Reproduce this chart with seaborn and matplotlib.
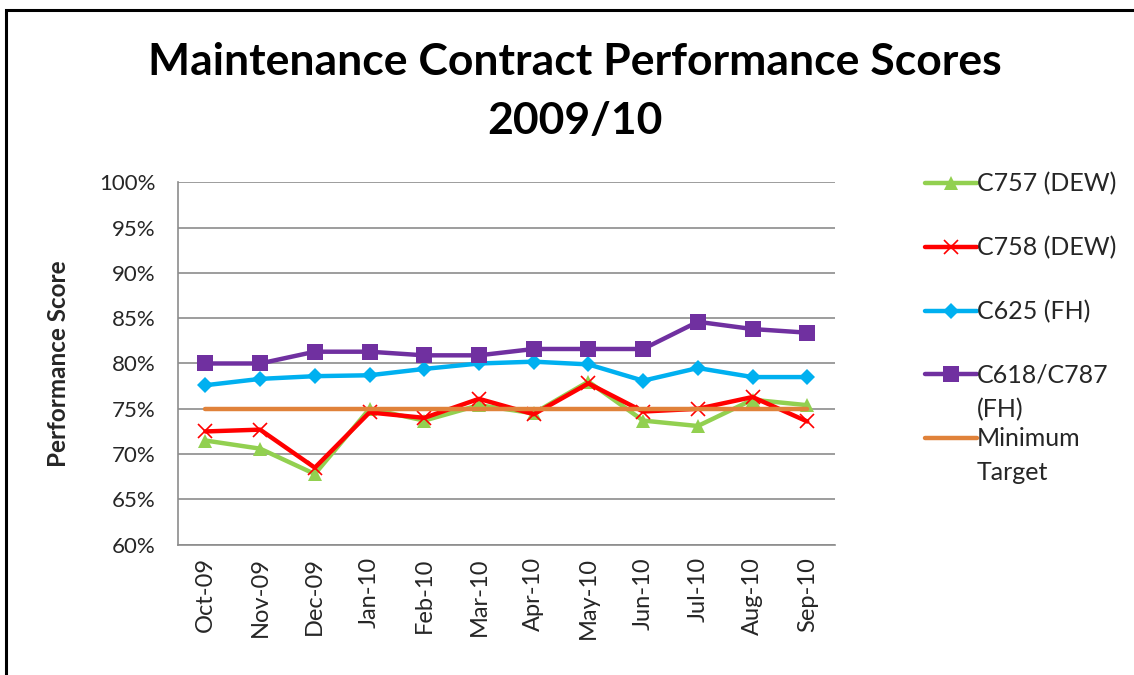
import pandas as pd
import matplotlib.pyplot as plt
import seaborn as sns
from matplotlib.patches import Rectangle
from matplotlib.ticker import PercentFormatter

# Data
months = ['Oct-09', 'Nov-09', 'Dec-09', 'Jan-10', 'Feb-10', 'Mar-10',
          'Apr-10', 'May-10', 'Jun-10', 'Jul-10', 'Aug-10', 'Sep-10']
c757 = [71.5, 70.6, 67.8, 75.0, 73.7, 75.4, 74.5, 78.0, 73.7, 73.1, 76.0, 75.4]
c758 = [72.5, 72.7, 68.5, 74.6, 74.0, 76.1, 74.4, 77.8, 74.7, 75.0, 76.3, 73.6]
c625 = [77.6, 78.3, 78.6, 78.7, 79.4, 80.0, 80.2, 79.9, 78.1, 79.5, 78.5, 78.5]
c618 = [80.0, 80.0, 81.3, 81.3, 80.9, 80.9, 81.6, 81.6, 81.6, 84.6, 83.8, 83.4]
target = [75] * 12

series_names = ['C757 (DEW)', 'C758 (DEW)', 'C625 (FH)', 'C618/C787', 'Minimum']
second_lines = ['', '', '', '(FH)', 'Target']
series_values = [c757, c758, c625, c618, target]
colors = ['#92D050', '#FF0000', '#00B0F0', '#7030A0', '#E0823A']
markers = ['^', 'x', 'D', 's', None]
msizes = [10, 10, 8, 11, 0]

sns.set_style('white')
plt.rcParams['font.family'] = ['Lato', 'DejaVu Sans']

fig = plt.figure(figsize=(11.34, 6.75), dpi=100)
ax = fig.add_axes([0.157, 0.193, 0.579, 0.537])

x = list(range(len(months)))
for name, vals, col, mk, ms in zip(series_names, series_values, colors, markers, msizes):
    df = pd.DataFrame({'x': x, 'y': vals})
    sns.lineplot(data=df, x='x', y='y', ax=ax, color=col, linewidth=3.2,
                 marker=mk, markersize=ms, markeredgecolor=col,
                 markeredgewidth=1.2 if mk == 'x' else 0, label=name)

ax.set_xlim(-0.5, 11.5)
ax.set_ylim(60, 100)
ax.set_yticks(range(60, 101, 5))
ax.yaxis.set_major_formatter(PercentFormatter(decimals=0))
ax.set_xticks(x)
ax.set_xticklabels(months, rotation=90, fontsize=17)
ax.tick_params(axis='y', labelsize=16, length=0, pad=16)
ax.tick_params(axis='x', length=0, pad=9)
ax.grid(axis='y', color='#8C8C8C', linewidth=1.2)
ax.set_xlabel('')
ax.set_ylabel('Performance Score', fontsize=17.5, fontweight='bold')
ax.yaxis.set_label_coords(-0.164, 0.5)
for s in ['top', 'right']:
    ax.spines[s].set_visible(False)
for s in ['left', 'bottom']:
    ax.spines[s].set_color('#8C8C8C')
    ax.spines[s].set_linewidth(1.2)

leg = ax.legend(loc='upper left', bbox_to_anchor=(1.137, 1.027), frameon=False,
                fontsize=18, labelspacing=1.62, handlelength=2.1, handletextpad=0.0,
                borderaxespad=0, borderpad=0)

fig.text(0.507, 0.908, 'Maintenance Contract Performance Scores',
         ha='center', va='center', fontsize=32, fontweight='bold', color='black')
fig.text(0.507, 0.82, '2009/10',
         ha='center', va='center', fontsize=32, fontweight='bold', color='black')

fig.patches.append(Rectangle((6 / 1134, -0.1), 1.2, 1 - 10 / 675 + 0.1,
                             transform=fig.transFigure, fill=False,
                             edgecolor='black', linewidth=2.2))

# second lines of the two-line legend labels, placed under the first line
fig.canvas.draw()
for txt, extra in zip(leg.get_texts(), second_lines):
    if extra:
        ax.annotate(extra, xy=(0, 0), xycoords=txt, xytext=(0, -8),
                    textcoords='offset points', ha='left', va='top', fontsize=18,
                    annotation_clip=False)

fig.savefig('out.png', dpi=100)
